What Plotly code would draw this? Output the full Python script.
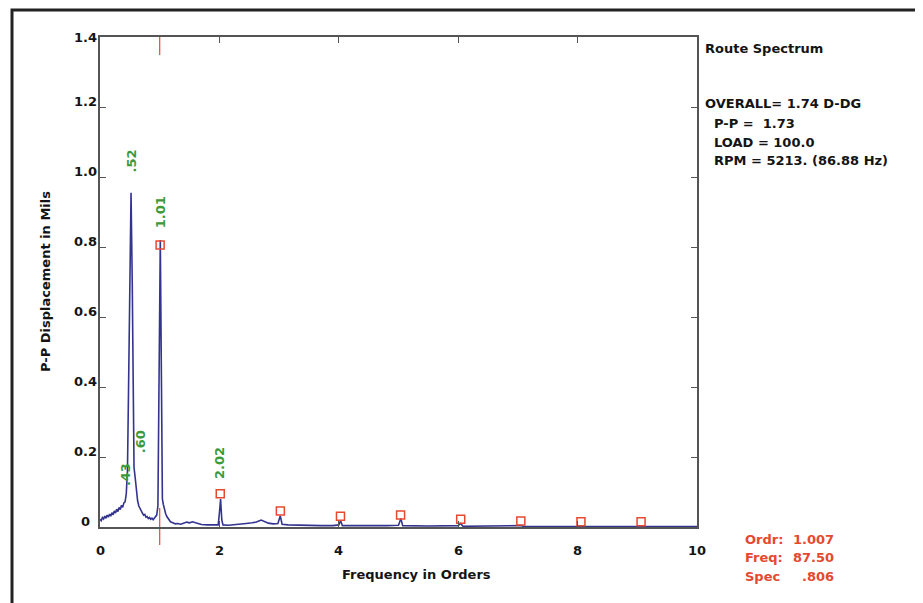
import plotly.graph_objects as go

# ---------------- data ----------------
orders = [0.00, 0.02, 0.04, 0.06, 0.08, 0.10, 0.12, 0.14, 0.16, 0.18, 0.20, 0.22, 0.24, 0.26, 0.28,
          0.30, 0.32, 0.34, 0.36, 0.38, 0.40, 0.42, 0.44, 0.46, 0.48, 0.50, 0.52, 0.54, 0.555, 0.57,
          0.59, 0.61, 0.63, 0.65, 0.67, 0.69, 0.71, 0.73, 0.75, 0.77, 0.79, 0.81, 0.83, 0.85, 0.87,
          0.89, 0.91, 0.93, 0.95, 0.97, 0.99, 1.01, 1.03, 1.045, 1.06, 1.08, 1.10, 1.12, 1.15, 1.18,
          1.22, 1.26, 1.30, 1.35, 1.40, 1.45, 1.50, 1.55, 1.60, 1.65, 1.70, 1.80, 1.90, 1.98, 2.00,
          2.02, 2.04, 2.06, 2.15, 2.25, 2.35, 2.45, 2.55, 2.62, 2.70, 2.76, 2.82, 2.90, 2.98, 3.02,
          3.05, 3.15, 3.30, 3.50, 3.70, 3.90, 4.00, 4.03, 4.06, 4.30, 4.60, 4.80, 5.00, 5.04, 5.07,
          5.50, 6.00, 6.04, 6.08, 7.00, 7.05, 7.10, 8.00, 9.00, 10.0]
amplitude = [0.022, 0.018, 0.027, 0.023, 0.031, 0.025, 0.034, 0.028, 0.037, 0.031, 0.041, 0.035, 0.046, 0.040, 0.051,
             0.044, 0.056, 0.050, 0.062, 0.056, 0.069, 0.072, 0.095, 0.160, 0.420, 0.800, 0.955, 0.700, 0.300, 0.170,
             0.140, 0.100, 0.075, 0.060, 0.052, 0.045, 0.040, 0.034, 0.036, 0.028, 0.030, 0.024, 0.027, 0.022, 0.025,
             0.021, 0.026, 0.030, 0.034, 0.060, 0.550, 0.820, 0.400, 0.080, 0.065, 0.050, 0.038, 0.030, 0.022, 0.015,
             0.012, 0.009, 0.010, 0.008, 0.011, 0.014, 0.012, 0.015, 0.012, 0.009, 0.007, 0.006, 0.005, 0.006, 0.040,
             0.080, 0.020, 0.006, 0.005, 0.006, 0.008, 0.010, 0.012, 0.014, 0.020, 0.015, 0.011, 0.009, 0.010, 0.032,
             0.008, 0.006, 0.005, 0.004, 0.004, 0.004, 0.006, 0.018, 0.004, 0.004, 0.003, 0.004, 0.005, 0.024, 0.004,
             0.003, 0.004, 0.010, 0.002, 0.002, 0.004, 0.001, 0.001, 0.001, 0.001]

harmonic_orders = [1.007, 2.014, 3.021, 4.028, 5.035, 6.042, 7.049, 8.056, 9.063]
harmonic_values = [0.806, 0.095, 0.046, 0.031, 0.034, 0.022, 0.017, 0.015, 0.015]

peak_labels = [".43", ".52", ".60", "1.01", "2.02"]
peak_label_x = [0.44, 0.53, 0.69, 1.01, 2.01]
peak_label_y = [0.149, 1.046, 0.243, 0.900, 0.183]

x_tickvals = [0, 2, 4, 6, 8, 10]
x_ticktext = ["0", "2", "4", "6", "8", "10"]
y_tickvals = [0, 0.2, 0.4, 0.6, 0.8, 1.0, 1.2, 1.4]
y_ticktext = ["0", "0.2", "0.4", "0.6", "0.8", "1.0", "1.2", "1.4"]

title_text = "Route Spectrum"
info_lines = ["OVERALL= 1.74 D-DG", "P-P =  1.73", "LOAD = 100.0", "RPM = 5213. (86.88 Hz)"]
cursor_names = ["Ordr:", "Freq:", "Spec"]
cursor_values = ["1.007", "87.50", ".806"]
cursor_order = 1.0
x_range = [0, 10]
y_range = [0, 1.4]

# ---------------- layout helpers (reference pixel coords) ----------------
OFF = 8                       # default body margin of the html page
W, H = 923, 603
L, R, T, B = 100, 697, 37, 527


def px(xp):
    return (xp - L) / (R - L)


def py(yp):
    return (B - yp) / (B - T)


FONT = "DejaVu Sans, Verdana, sans-serif"
BLUE = "#34348f"
RED = "#e5492f"
GREEN = "#3a9a3a"
AXIS = "#555555"
INK = "#141414"

fig = go.Figure()
fig.add_trace(go.Scatter(x=orders, y=amplitude, mode="lines",
                         line=dict(color=BLUE, width=1.6), hoverinfo="skip", showlegend=False))
fig.add_trace(go.Scatter(x=harmonic_orders, y=harmonic_values, mode="markers",
                         marker=dict(symbol="square-open", size=8, color=RED, line=dict(width=1.5, color=RED)),
                         showlegend=False, cliponaxis=False, hoverinfo="skip"))

annotations = []
for t, xv, yv in zip(peak_labels, peak_label_x, peak_label_y):
    annotations.append(dict(x=xv, y=yv, xref="x", yref="y", text="<b>%s</b>" % t, showarrow=False,
                            textangle=-90, font=dict(color=GREEN, size=13, family=FONT)))

# tick labels
for v, t in zip(x_tickvals, x_ticktext):
    annotations.append(dict(x=v, y=0, xref="x", yref="paper", yanchor="middle", xanchor="center",
                            yshift=-23, text="<b>%s</b>" % t, showarrow=False,
                            font=dict(size=13, color=INK, family=FONT)))
for v, t in zip(y_tickvals, y_ticktext):
    annotations.append(dict(x=px(85), y=v, xref="paper", yref="y", yanchor="middle", xanchor="center",
                            yshift=0 if v == y_range[1] else 6, text="<b>%s</b>" % t, showarrow=False,
                            font=dict(size=13, color=INK, family=FONT)))

annotations.append(dict(x=px(703), y=py(48), xref="paper", yref="paper", xanchor="left", yanchor="middle",
                        text="<b>%s</b>" % title_text, showarrow=False,
                        font=dict(size=13, color=INK, family=FONT)))
info_x = [703, 712, 712, 712]
info_y = [104, 123, 142, 160]
for s, xx, yy in zip(info_lines, info_x, info_y):
    annotations.append(dict(x=px(xx), y=py(yy), xref="paper", yref="paper", xanchor="left", yanchor="middle",
                            text="<b>%s</b>" % s.replace(" ", "&nbsp;"), showarrow=False,
                            font=dict(size=13, color=INK, family=FONT)))
cursor_y = [539, 557, 576]
for n, v, yy in zip(cursor_names, cursor_values, cursor_y):
    annotations.append(dict(x=px(743), y=py(yy), xref="paper", yref="paper", xanchor="left", yanchor="middle",
                            text="<b>%s</b>" % n, showarrow=False, font=dict(size=13, color=RED, family=FONT)))
    annotations.append(dict(x=px(836), y=py(yy), xref="paper", yref="paper", xanchor="right", yanchor="middle",
                            text="<b>%s</b>" % v, showarrow=False, font=dict(size=13, color=RED, family=FONT)))

annotations.append(dict(x=px(416), y=py(574), xref="paper", yref="paper", xanchor="center", yanchor="middle",
                        text="<b>Frequency in Orders</b>", showarrow=False,
                        font=dict(size=13, color=INK, family=FONT)))
annotations.append(dict(x=px(45), y=py(282), xref="paper", yref="paper", xanchor="center", yanchor="middle",
                        text="<b>P-P Displacement in Mils</b>", showarrow=False, textangle=-90,
                        font=dict(size=13, color=INK, family=FONT)))

cx = (cursor_order - x_range[0]) / (x_range[1] - x_range[0])
shapes = [
    dict(type="line", xref="paper", yref="paper", x0=cx, x1=cx, y0=py(37), y1=py(55),
         line=dict(color=RED, width=1.2)),
    dict(type="line", xref="paper", yref="paper", x0=cx, x1=cx, y0=py(508), y1=py(545),
         line=dict(color=RED, width=1.2), layer="below"),
    dict(type="rect", xref="paper", yref="paper", x0=px(12), x1=px(920), y0=py(10), y1=py(615),
         line=dict(color="#222", width=3)),
]

axis_common = dict(showline=True, linecolor=AXIS, linewidth=1.6, mirror="ticks", ticks="inside",
                   ticklen=6, tickwidth=1.3, tickcolor=AXIS, showgrid=False, zeroline=False,
                   showticklabels=False)

fig.update_layout(
    width=W - OFF, height=H - OFF,
    margin=dict(l=L - OFF, r=W - R, t=T - OFF, b=H - B, autoexpand=False),
    paper_bgcolor="white", plot_bgcolor="white",
    xaxis=dict(range=x_range, tickvals=x_tickvals, **axis_common),
    yaxis=dict(range=y_range, tickvals=y_tickvals, **axis_common),
    annotations=annotations, shapes=shapes, showlegend=False,
)

fig.write_html("out.html")
